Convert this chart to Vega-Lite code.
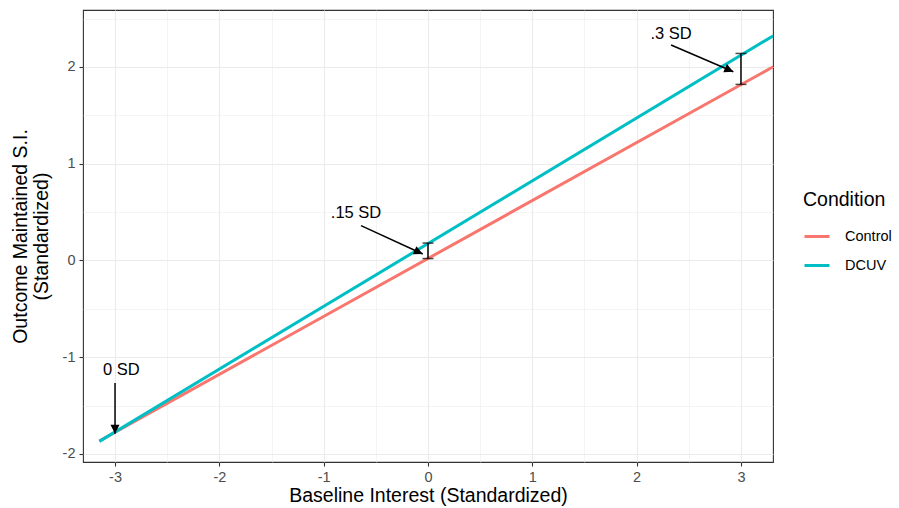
{
  "$schema": "https://vega.github.io/schema/vega-lite/v6.json",
  "width": 690,
  "height": 452,
  "autosize": {"type": "none"},
  "padding": {"left": 83, "top": 10, "right": 126, "bottom": 46},
  "background": "white",
  "config": {
    "font": "Liberation Sans",
    "view": {"stroke": "#333333", "strokeWidth": 1.1},
    "axis": {
      "domain": false,
      "gridColor": "#EBEBEB",
      "gridWidth": {"condition": {"test": "datum.value % 1 === 0", "value": 1.1}, "value": 0.55},
      "tickColor": "#333333",
      "tickWidth": 1.1,
      "tickSize": 4,
      "tickOpacity": {"condition": {"test": "datum.value % 1 === 0", "value": 1}, "value": 0},
      "labelExpr": "datum.value % 1 === 0 ? '' + datum.value : ''",
      "labelColor": "#4D4D4D",
      "labelFontSize": 14.5,
      "labelPadding": 4,
      "titleFontSize": 19.5,
      "titleFontWeight": "normal",
      "titleColor": "black"
    },
    "legend": {
      "titleFontSize": 19.5,
      "titleFontWeight": "normal",
      "titleColor": "black",
      "labelFontSize": 14.5,
      "labelColor": "black"
    }
  },
  "datasets": {
    "lines": [
      {"x": -3.15, "y": -1.866, "Condition": "Control"},
      {"x": 3.31, "y": 2.003, "Condition": "Control"},
      {"x": -3.15, "y": -1.87, "Condition": "DCUV"},
      {"x": 3.31, "y": 2.323, "Condition": "DCUV"}
    ],
    "bars": [
      {"x": 0, "ylo": 0.02, "yhi": 0.18},
      {"x": 3, "ylo": 1.82, "yhi": 2.14}
    ],
    "notes": [
      {"label": "0 SD", "tx": -2.94, "ty": -1.13, "x": -3, "y": -1.266, "x2": -3, "y2": -1.79},
      {"label": ".15 SD", "tx": -0.69, "ty": 0.49, "x": -0.642, "y": 0.36, "x2": -0.05, "y2": 0.067},
      {"label": ".3 SD", "tx": 2.33, "ty": 2.34, "x": 2.33, "y": 2.227, "x2": 2.927, "y2": 1.951}
    ]
  },
  "layer": [
    {
      "data": {"name": "lines"},
      "mark": {"type": "line", "strokeWidth": 3, "clip": true},
      "encoding": {
        "x": {
          "field": "x", "type": "quantitative",
          "scale": {"domain": [-3.307, 3.307], "nice": false, "zero": false},
          "axis": {"values": [-3, -2.5, -2, -1.5, -1, -0.5, 0, 0.5, 1, 1.5, 2, 2.5, 3], "title": "Baseline Interest (Standardized)", "titlePadding": 3}
        },
        "y": {
          "field": "y", "type": "quantitative",
          "scale": {"domain": [-2.083, 2.589], "nice": false, "zero": false},
          "axis": {"values": [-2, -1.5, -1, -0.5, 0, 0.5, 1, 1.5, 2, 2.5], "title": ["Outcome Maintained S.I.", "(Standardized)"], "titlePadding": 11, "titleLineHeight": 21}
        },
        "color": {
          "field": "Condition", "type": "nominal",
          "scale": {"domain": ["Control", "DCUV"], "range": ["#F8766D", "#00BFC4"]},
          "legend": {
            "orient": "none", "legendX": 720, "legendY": 181,
            "symbolType": "stroke", "symbolSize": 625, "symbolStrokeWidth": 3,
            "rowPadding": 8, "titlePadding": 12, "labelOffset": 14
          }
        },
        "order": {"field": "Condition"}
      }
    },
    {
      "data": {"name": "bars"},
      "mark": {"type": "rule", "color": "black", "strokeWidth": 1.5},
      "encoding": {
        "x": {"field": "x", "type": "quantitative"},
        "y": {"field": "ylo", "type": "quantitative"},
        "y2": {"field": "yhi"}
      }
    },
    {
      "data": {"name": "bars"},
      "mark": {"type": "tick", "orient": "horizontal", "color": "black", "thickness": 1.5, "size": 11},
      "encoding": {
        "x": {"field": "x", "type": "quantitative"},
        "y": {"field": "ylo", "type": "quantitative"}
      }
    },
    {
      "data": {"name": "bars"},
      "mark": {"type": "tick", "orient": "horizontal", "color": "black", "thickness": 1.5, "size": 11},
      "encoding": {
        "x": {"field": "x", "type": "quantitative"},
        "y": {"field": "yhi", "type": "quantitative"}
      }
    },
    {
      "data": {"name": "notes"},
      "mark": {"type": "rule", "color": "black", "strokeWidth": 1.5},
      "encoding": {
        "x": {"field": "x", "type": "quantitative"},
        "y": {"field": "y", "type": "quantitative"},
        "x2": {"field": "x2"},
        "y2": {"field": "y2"}
      }
    },
    {
      "data": {"name": "notes"},
      "transform": [{"filter": "datum.label === '0 SD'"}],
      "mark": {"type": "point", "shape": "M0,0L-0.5,1L0.5,1Z", "filled": true, "color": "black", "opacity": 1, "size": 324, "angle": 180},
      "encoding": {
        "x": {"field": "x2", "type": "quantitative"},
        "y": {"field": "y2", "type": "quantitative"}
      }
    },
    {
      "data": {"name": "notes"},
      "transform": [{"filter": "datum.label === '.15 SD'"}],
      "mark": {"type": "point", "shape": "M0,0L-0.5,1L0.5,1Z", "filled": true, "color": "black", "opacity": 1, "size": 324, "angle": 114.6},
      "encoding": {
        "x": {"field": "x2", "type": "quantitative"},
        "y": {"field": "y2", "type": "quantitative"}
      }
    },
    {
      "data": {"name": "notes"},
      "transform": [{"filter": "datum.label === '.3 SD'"}],
      "mark": {"type": "point", "shape": "M0,0L-0.5,1L0.5,1Z", "filled": true, "color": "black", "opacity": 1, "size": 324, "angle": 113.2},
      "encoding": {
        "x": {"field": "x2", "type": "quantitative"},
        "y": {"field": "y2", "type": "quantitative"}
      }
    },
    {
      "data": {"name": "notes"},
      "mark": {"type": "text", "fontSize": 16.5, "color": "black", "align": "center", "baseline": "middle"},
      "encoding": {
        "x": {"field": "tx", "type": "quantitative"},
        "y": {"field": "ty", "type": "quantitative"},
        "text": {"field": "label"}
      }
    }
  ]
}
